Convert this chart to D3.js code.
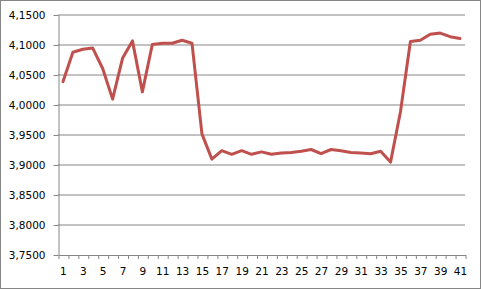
<!DOCTYPE html>
<html>
<head>
<meta charset="utf-8">
<script src="https://cdn.jsdelivr.net/npm/d3@7"></script>
<style>
  html, body { margin: 0; padding: 0; background: #fff; }
  #chart { width: 481px; height: 289px; }
</style>
</head>
<body>
<div id="chart"></div>
<script>
(function () {

    // category labels 1..41 on the x axis
    var CATEGORIES = [
         1,  2,  3,  4,  5,  6,  7,  8,  9, 10,
        11, 12, 13, 14, 15, 16, 17, 18, 19, 20,
        21, 22, 23, 24, 25, 26, 27, 28, 29, 30,
        31, 32, 33, 34, 35, 36, 37, 38, 39, 40, 41
    ];

    var VALUES = [
        4.038, 4.087, 4.092, 4.094, 4.060, 4.009, 4.077, 4.106, 4.021, 4.100,
        4.102, 4.102, 4.107, 4.102, 3.951, 3.909, 3.923, 3.917, 3.923, 3.917,
        3.921, 3.917, 3.919, 3.920, 3.922, 3.925, 3.918, 3.925, 3.923, 3.920,
        3.919, 3.918, 3.922, 3.904, 3.988, 4.105, 4.107, 4.117, 4.119, 4.113,
        4.110
    ];

    var Y_TICKS = [3.75, 3.80, 3.85, 3.90, 3.95, 4.00, 4.05, 4.10, 4.15];
    var X_LABELS = [1, 3, 5, 7, 9, 11, 13, 15, 17, 19, 21, 23, 25, 27, 29, 31, 33, 35, 37, 39, 41];

    var W = 481, H = 289;
    var margin = { top: 14.5, right: 16, bottom: 34.5, left: 58 };
    var iW = W - margin.left - margin.right;
    var iH = H - margin.top - margin.bottom;

    var GRAY = "#868686";
    var FONT = "'DejaVu Sans', sans-serif";

    var root = d3.select("#chart").append("svg")
        .attr("width", W)
        .attr("height", H);

    // outer chart border
    root.append("rect")
        .attr("x", 0.5).attr("y", 0.5)
        .attr("width", W - 1).attr("height", H - 1)
        .attr("fill", "#fff")
        .attr("stroke", GRAY)
        .attr("stroke-width", 1);

    var svg = root.append("g")
        .attr("transform", "translate(" + margin.left + "," + margin.top + ")");

    /* scales */
    var xScale = d3.scaleLinear()
        .domain([0.5, CATEGORIES.length + 0.5])
        .range([0, iW]);

    var yScale = d3.scaleLinear()
        .domain([3.75, 4.15])
        .range([iH, 0]);

    var fmtY = function (v) { return d3.format(".4f")(v).replace(".", ","); };

    /* gridlines */
    svg.append("g")
        .attr("class", "grid")
        .selectAll("line")
        .data(Y_TICKS.slice(1))
        .enter()
        .append("line")
        .attr("x1", 0).attr("x2", iW)
        .attr("y1", function (d) { return Math.round(yScale(d)) + 0.5; })
        .attr("y2", function (d) { return Math.round(yScale(d)) + 0.5; })
        .attr("stroke", GRAY)
        .attr("stroke-width", 1);

    /* y axis */
    var yAxis = svg.append("g")
        .attr("class", "axis axis-y")
        .attr("transform", "translate(0.5,0.5)")
        .call(d3.axisLeft(yScale)
            .tickValues(Y_TICKS)
            .tickSize(5)
            .tickSizeOuter(0)
            .tickPadding(8)
            .tickFormat(fmtY));

    /* x axis: tick marks at category boundaries */
    var boundaries = d3.range(0, CATEGORIES.length + 1).map(function (i) { return i + 0.5; });

    var xAxis = svg.append("g")
        .attr("class", "axis axis-x")
        .attr("transform", "translate(0.5," + (iH + 0.5) + ")")
        .call(d3.axisBottom(xScale)
            .tickValues(boundaries)
            .tickSize(4)
            .tickSizeOuter(0)
            .tickFormat(""));

    /* x labels on odd categories */
    svg.append("g")
        .attr("class", "axis axis-x-labels")
        .attr("transform", "translate(0," + iH + ")")
        .call(d3.axisBottom(xScale)
            .tickValues(X_LABELS)
            .tickSize(0)
            .tickPadding(13)
            .tickFormat(d3.format("d")))
        .select(".domain").remove();

    svg.selectAll(".axis path, .axis line")
        .attr("stroke", GRAY)
        .attr("stroke-width", 1);

    svg.selectAll(".axis text")
        .attr("fill", "#000")
        .style("font-family", FONT)
        .style("font-size", "10.5px");

    /* line */
    var line = d3.line()
        .x(function (d, i) { return xScale(CATEGORIES[i]); })
        .y(function (d) { return yScale(d); });

    svg.append("path")
        .datum(VALUES)
        .attr("d", line)
        .attr("fill", "none")
        .attr("stroke", "#C0504D")
        .attr("stroke-width", 3)
        .attr("stroke-linejoin", "round")
        .attr("stroke-linecap", "round");

}());
</script>
</body>
</html>
